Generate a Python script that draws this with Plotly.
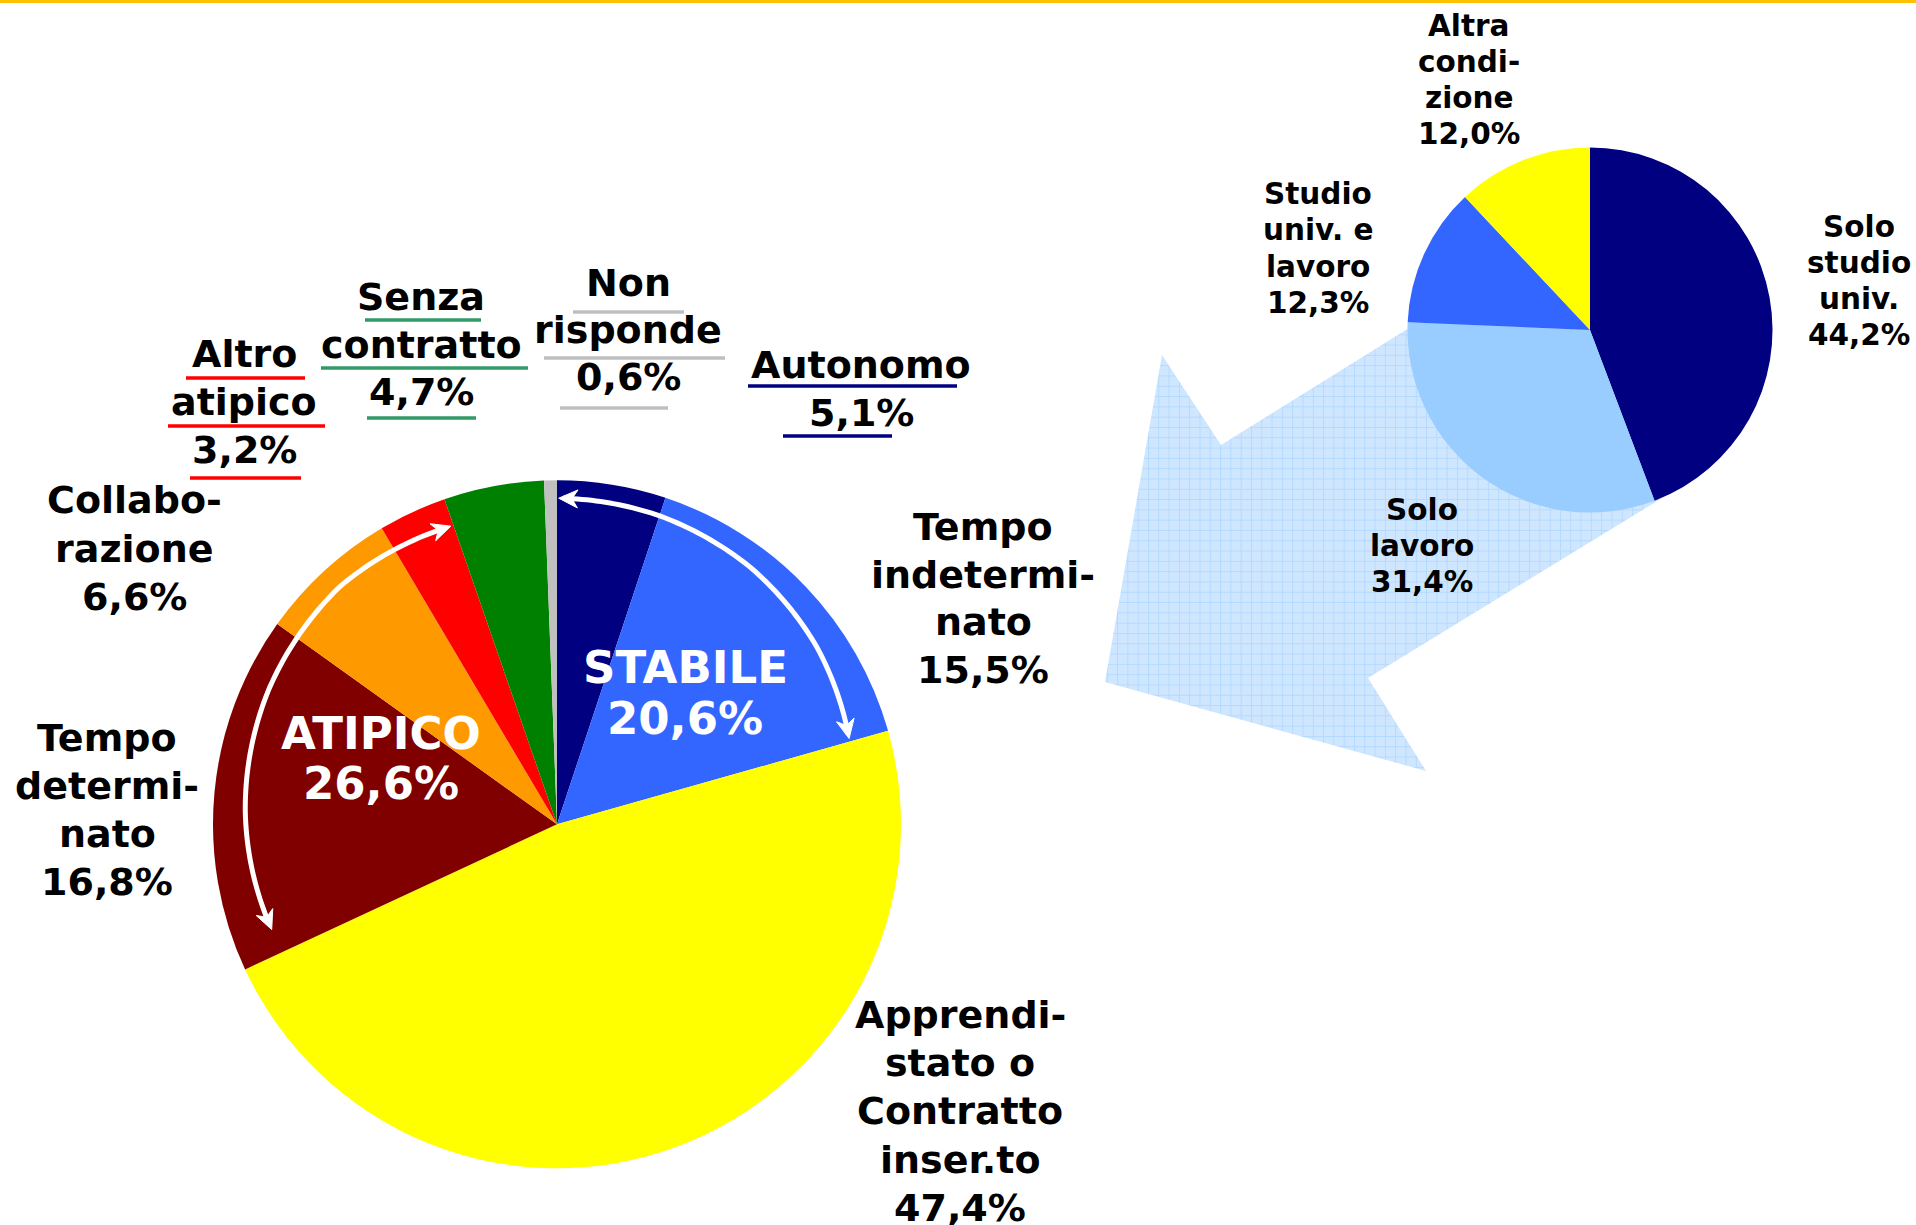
import math
import numpy as np
import plotly.graph_objects as go

W, H = 1916, 1225

# ---------------- data ----------------
main_categories = ["Autonomo", "Tempo indeterminato", "Apprendistato o Contratto inser.to",
                   "Tempo determinato", "Collaborazione", "Altro atipico",
                   "Senza contratto", "Non risponde"]
main_values = [5.1, 15.5, 47.4, 16.8, 6.6, 3.2, 4.7, 0.6]
main_label_lines = [["Autonomo"], ["Tempo", "indetermi-", "nato"],
                    ["Apprendi-", "stato o", "Contratto", "inser.to"],
                    ["Tempo", "determi-", "nato"], ["Collabo-", "razione"],
                    ["Altro", "atipico"], ["Senza", "contratto"], ["Non", "risponde"]]
group_names = ["STABILE", "ATIPICO"]
group_members = [[0, 1], [3, 4, 5]]

sub_categories = ["Solo studio univ.", "Solo lavoro", "Studio univ. e lavoro", "Altra condizione"]
sub_values = [44.2, 31.4, 12.3, 12.0]
sub_label_lines = [["Solo", "studio", "univ."], ["Solo", "lavoro"],
                   ["Studio", "univ. e", "lavoro"], ["Altra", "condi-", "zione"]]

# ---------------- styles / positions ----------------
main_colors = ["#000080", "#3366FF", "#FFFF00", "#800000", "#FF9900", "#FF0000", "#008000", "#C0C0C0"]
sub_colors = ["#000080", "#99CCFF", "#3366FF", "#FFFF00"]
FONT = "DejaVu Sans, Verdana, sans-serif"

MAIN_C = (557, 824.3)
MAIN_R = 344
SUB_C = (1590, 330)
SUB_R = 182.5

main_label_pos = [(861, 365, 48), (983, 527, 47.5), (960, 1015, 48.2), (107, 738, 48),
                  (134, 500, 48.5), (244, 354, 48), (421, 297, 47.5), (628, 283, 47)]
main_label_size = 38
underline_style = {
    0: ("#000080", [(748, 957, 386), (783, 892, 436)]),
    5: ("#FF0000", [(186, 305, 378), (168, 325, 426), (190, 301, 478)]),
    6: ("#339966", [(365, 481, 320), (321, 528, 368), (367, 476, 418)]),
    7: ("#BFBFBF", [(573, 684, 312), (544, 725, 358), (560, 668, 408)]),
}
group_pos = [(685, 667, 51.5), (381, 733, 50)]
group_size = 45
sub_label_pos = [(1859, 226.5, 36.2), (1422, 510, 36.2), (1318, 194, 36.3), (1469, 26, 36)]
sub_size = 29.5


def fx(x):
    return x / W


def fy(y):
    return 1 - y / H


def fmt(v):
    return ("%.1f" % v).replace(".", ",") + "%"


fig = go.Figure()

# big hatched arrow (pixel coordinates on hidden axes)
arrow_x = [1105, 1162, 1221, 1560, 1620, 1690, 1368, 1426, 1105]
arrow_y = [682, 355, 445, 234, 370, 481, 678, 771, 682]
fig.add_trace(go.Scatter(
    x=arrow_x, y=arrow_y, mode="lines", fill="toself",
    fillcolor="#CCE5FF", line=dict(width=0, color="rgba(0,0,0,0)"),
    fillpattern=dict(shape="+", bgcolor="#CFE6FF", fgcolor="#99CCFF", size=10.3, solidity=0.18),
    hoverinfo="skip", showlegend=False))

# main pie
fig.add_trace(go.Pie(
    labels=main_categories, values=main_values, sort=False, direction="clockwise",
    rotation=0, marker=dict(colors=main_colors, line=dict(width=0)),
    textinfo="none", hoverinfo="label+percent", showlegend=False,
    domain=dict(x=[fx(MAIN_C[0] - MAIN_R), fx(MAIN_C[0] + MAIN_R)],
                y=[fy(MAIN_C[1] + MAIN_R), fy(MAIN_C[1] - MAIN_R)])))

# secondary pie
fig.add_trace(go.Pie(
    labels=sub_categories, values=sub_values, sort=False, direction="clockwise",
    rotation=0, marker=dict(colors=sub_colors, line=dict(width=0)),
    textinfo="none", hoverinfo="label+percent", showlegend=False,
    domain=dict(x=[fx(SUB_C[0] - SUB_R), fx(SUB_C[0] + SUB_R)],
                y=[fy(SUB_C[1] + SUB_R), fy(SUB_C[1] - SUB_R)])))

annotations = []
shapes = []


def add_lines(lines, x, y0, dy, size, color="black"):
    for i, t in enumerate(lines):
        annotations.append(dict(
            text=t, x=fx(x), y=fy(y0 + i * dy), xref="paper", yref="paper",
            xanchor="center", yanchor="middle", showarrow=False,
            font=dict(family=FONT, size=size, color=color, weight="bold")))


# main labels
for i, lines in enumerate(main_label_lines):
    x, y0, dy = main_label_pos[i]
    add_lines(lines + [fmt(main_values[i])], x, y0, dy, main_label_size)

# underlines
for i, (col, segs) in underline_style.items():
    for (x0, x1, y) in segs:
        shapes.append(dict(type="line", xref="paper", yref="paper",
                           x0=fx(x0), x1=fx(x1), y0=fy(y), y1=fy(y),
                           line=dict(color=col, width=3.5)))

# group labels
for g, name in enumerate(group_names):
    total = sum(main_values[k] for k in group_members[g])
    x, y0, dy = group_pos[g]
    add_lines([name, fmt(total)], x, y0, dy, group_size, "white")

# sub labels
for i, lines in enumerate(sub_label_lines):
    x, y0, dy = sub_label_pos[i]
    add_lines(lines + [fmt(sub_values[i])], x, y0, dy, sub_size)

# curved white double arrows along groups
tot = sum(main_values)
cum = np.concatenate([[0], np.cumsum(main_values)]) / tot * 360.0


def pt(theta, r):
    t = math.radians(theta)
    return MAIN_C[0] + r * math.sin(t), MAIN_C[1] - r * math.cos(t)


def head(tip, prev, L=19, w=9):
    dx, dy = tip[0] - prev[0], tip[1] - prev[1]
    n = math.hypot(dx, dy)
    dx, dy = dx / n, dy / n
    nx, ny = -dy, dx
    bx, by = tip[0] - L * dx, tip[1] - L * dy
    b1 = (bx + w * nx, by + w * ny)
    b2 = (bx - w * nx, by - w * ny)
    notch = (tip[0] - 0.7 * L * dx, tip[1] - 0.7 * L * dy)
    path = "M %f,%f L %f,%f L %f,%f L %f,%f Z" % (
        fx(tip[0]), fy(tip[1]), fx(b1[0]), fy(b1[1]), fx(notch[0]), fy(notch[1]), fx(b2[0]), fy(b2[1]))
    shapes.append(dict(type="path", xref="paper", yref="paper", path=path,
                       fillcolor="white", line=dict(color="white", width=1), layer="above"))
    return notch


def arc(t0, t1, r_nodes):
    # r_nodes: radius fractions spread evenly from t0 to t1
    n = 90
    ts = np.linspace(t0, t1, n)
    u = np.linspace(0, 1, len(r_nodes))
    rs = np.interp(np.linspace(0, 1, n), u, r_nodes) * MAIN_R
    pts = [pt(t, r) for t, r in zip(ts, rs)]
    n0 = head(pts[0], pts[3])
    n1 = head(pts[-1], pts[-4])
    inner = list(pts)
    inner[0] = n0
    inner[-1] = n1
    path = "M " + " L ".join("%f,%f" % (fx(p[0]), fy(p[1])) for p in inner)
    shapes.append(dict(type="path", xref="paper", yref="paper", path=path,
                       line=dict(color="white", width=5), layer="above"))


arc(cum[0] + 0.3, cum[2] - 0.6, [0.948, 0.945, 0.935, 0.915, 0.885])
arc(cum[6] - 0.5, cum[3] + 4.7, [0.92, 0.936, 0.925, 0.907, 0.884])

# gold top rule
shapes.append(dict(type="rect", xref="paper", yref="paper", x0=0, x1=1, y0=fy(3), y1=1,
                   fillcolor="#FFC000", line=dict(width=0), layer="above"))

fig.update_layout(
    width=W, height=H, margin=dict(l=0, r=0, t=0, b=0),
    paper_bgcolor="white", plot_bgcolor="white",
    xaxis=dict(range=[0, W], visible=False, domain=[0, 1], fixedrange=True),
    yaxis=dict(range=[H, 0], visible=False, domain=[0, 1], fixedrange=True),
    annotations=annotations, shapes=shapes, showlegend=False)

fig.write_html("out.html", config={"displayModeBar": False},
               post_script="document.body.style.margin='0';document.body.style.overflow='hidden';")
